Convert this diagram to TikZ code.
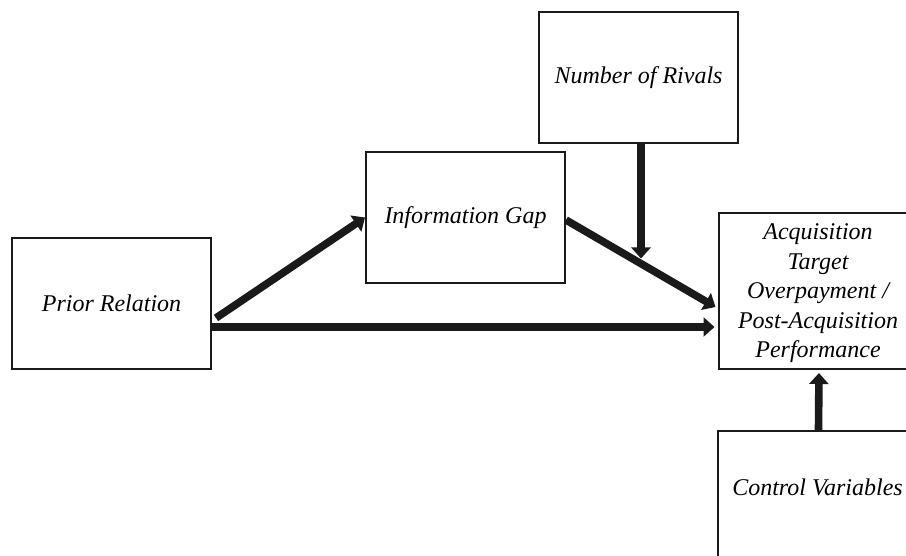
\documentclass[tikz,border=0pt]{standalone}
\usepackage{fontspec}
\setmainfont{Liberation Serif}
\usepackage{tikz}
\usetikzlibrary{calc,arrows.meta}
\definecolor{ink}{HTML}{1A1A1A}
\tikzset{
  varbox/.style={draw=ink, line width=1pt, minimum width=99.5pt, minimum height=65.5pt,
    align=center, inner sep=2pt, font=\fontsize{12}{14.75}\selectfont\itshape},
  link/.style={draw=ink, line width=3.8pt, -{Triangle[length=5.5pt,width=9.5pt]}},
  thinlink/.style={draw=ink, line width=3.6pt, -{Triangle[length=5.5pt,width=9.5pt]}}
}

\begin{document}
\begin{tikzpicture}[x=0.5pt, y=-0.5pt]
  \useasboundingbox (0,0) rectangle (906,556);
  \clip (0,0) rectangle (906,556);

  \node[varbox] (prior) at (111.5,303.5) {Prior Relation};
  \node[varbox] (gap) at (465.5,217.5) {Information Gap};
  \node[varbox] (rivals) at (638.5,77.5) {Number of Rivals};
  \node[varbox, minimum height=78pt, text depth=0pt] (acq) at (818,291)
    {Acquisition\\Target\\Overpayment /\\Post-Acquisition\\Performance};
  \node[varbox, text depth=9pt] (ctrl) at (817.5,496.5) {Control Variables};

  \coordinate (gapout) at ([shift={(0,2.5)}]gap.east);
  \coordinate (acqin) at ([shift={(-2,16)}]acq.west);
  \coordinate (mid) at ($(gapout)!0.5!(acqin)$);

  \draw[link] ([shift={(4,14.5)}]prior.east) -- (gap.west);
  \draw[link] ([shift={(0,23.5)}]prior.east) -- ([shift={(-3,36)}]acq.west);
  \draw[link] (gapout) -- (acqin);
  \draw[thinlink, shorten >=2.5pt] ([xshift=1.25pt]rivals.south) -- ([xshift=1.25pt]rivals.south |- mid);
  \draw[link, shorten >=1.5pt] ([xshift=0.5pt]ctrl.north) -- ([xshift=0.5pt]acq.south);
\end{tikzpicture}
\end{document}
